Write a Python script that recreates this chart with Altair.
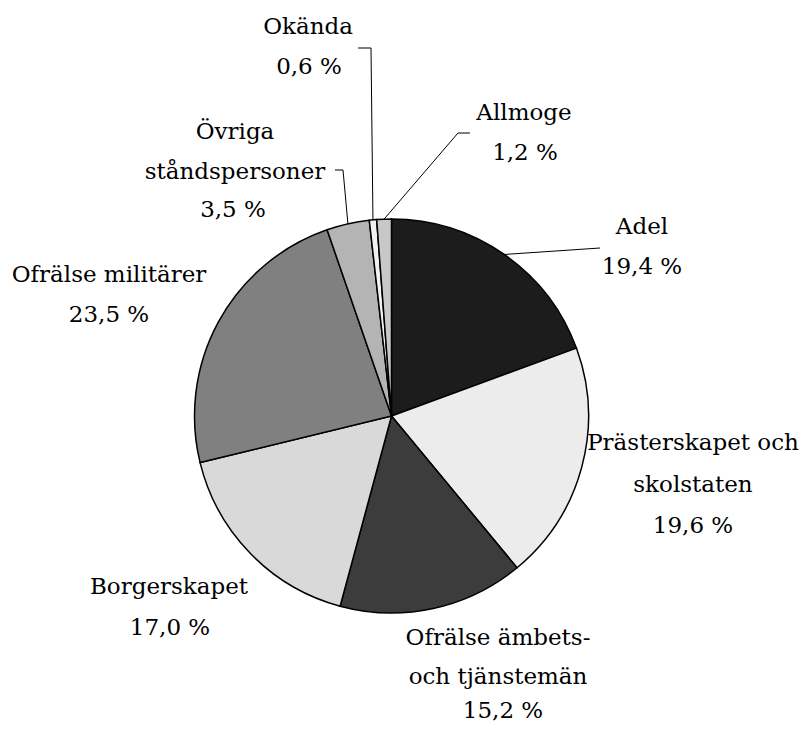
import math
import altair as alt
import pandas as pd

# ---- data ----
categories = ["Adel", "Prästerskapet och skolstaten", "Ofrälse ämbets- och tjänstemän",
              "Borgerskapet", "Ofrälse militärer", "Övriga ståndspersoner", "Okända", "Allmoge"]
values = [19.4, 19.6, 15.2, 17.0, 23.5, 3.5, 0.6, 1.2]
label_lines = [
    ["Adel"],
    ["Prästerskapet och", "skolstaten"],
    ["Ofrälse ämbets-", "och tjänstemän"],
    ["Borgerskapet"],
    ["Ofrälse militärer"],
    ["Övriga", "ståndspersoner"],
    ["Okända"],
    ["Allmoge"],
]
fills = ["#1c1c1c", "#ececec", "#3c3c3c", "#d9d9d9", "#808080", "#b4b4b4", "#f2f2f2", "#c8c8c8"]

# ---- layout (chart pixel coordinates) ----
W, H = 791, 717
CX, CY, R = 383.5, 408.0, 197
FONT = "DejaVu Serif"
FS = 23
# centre x, and middle y of each line (name lines followed by percent line)
label_pos = [
    [(634, 219), (634, 259)],
    [(685, 435), (685, 477), (685, 518)],
    [(490, 630), (490, 669), (495, 703)],
    [(161, 579), (162, 620)],
    [(101, 267), (101, 307)],
    [(227, 124), (227, 164), (225, 202)],
    [(300, 19), (301, 59)],
    [(516, 105), (517, 145)],
]
# leader polylines: start points (before reaching the slice edge)
leader_start = {
    0: [(592, 240)],
    5: [(327, 162), (335, 162)],
    6: [(350, 40), (363, 40)],
    7: [(462, 125), (450, 125)],
}

def pct(v):
    return f"{v:.1f}".replace(".", ",") + " %"

pie_df = pd.DataFrame({"cat": categories, "value": values, "idx": list(range(len(values)))})

rows = []
for i, lines in enumerate(label_lines):
    texts = lines + [pct(values[i])]
    for t, (x, y) in zip(texts, label_pos[i]):
        rows.append({"text": t, "x": x, "y": y})
lab_df = pd.DataFrame(rows)

total = sum(values)
seg = []
cum = 0.0
mids = []
for v in values:
    mids.append((cum + v / 2) / total * 2 * math.pi)
    cum += v
for i, pts in leader_start.items():
    a = mids[i]
    end = (CX + R * math.sin(a), CY - R * math.cos(a))
    allp = pts + [end]
    for k in range(len(allp) - 1):
        seg.append({"x": allp[k][0], "y": allp[k][1], "x2": allp[k + 1][0], "y2": allp[k + 1][1]})
seg_df = pd.DataFrame(seg)

pie = alt.Chart(pie_df).mark_arc(outerRadius=R, stroke="black", strokeWidth=1.5).encode(
    theta=alt.Theta("value:Q", stack=True),
    color=alt.Color("cat:N", scale=alt.Scale(domain=categories, range=fills), legend=None),
    order=alt.Order("idx:Q"),
    x=alt.value(CX),
    y=alt.value(CY),
)

labels = alt.Chart(lab_df).mark_text(font=FONT, fontSize=FS, align="center", baseline="middle",
                                     color="black").encode(
    x=alt.X("x:Q", scale=None), y=alt.Y("y:Q", scale=None), text="text:N")

leaders = alt.Chart(seg_df).mark_rule(color="black", strokeWidth=1).encode(
    x=alt.X("x:Q", scale=None), y=alt.Y("y:Q", scale=None),
    x2="x2:Q", y2="y2:Q")

chart = alt.layer(pie, leaders, labels).properties(
    width=W, height=H, autosize=alt.AutoSizeParams(type="none"), padding=0
).configure_view(strokeWidth=0)

chart.save("out.html", embed_options={"renderer": "svg", "actions": False})
